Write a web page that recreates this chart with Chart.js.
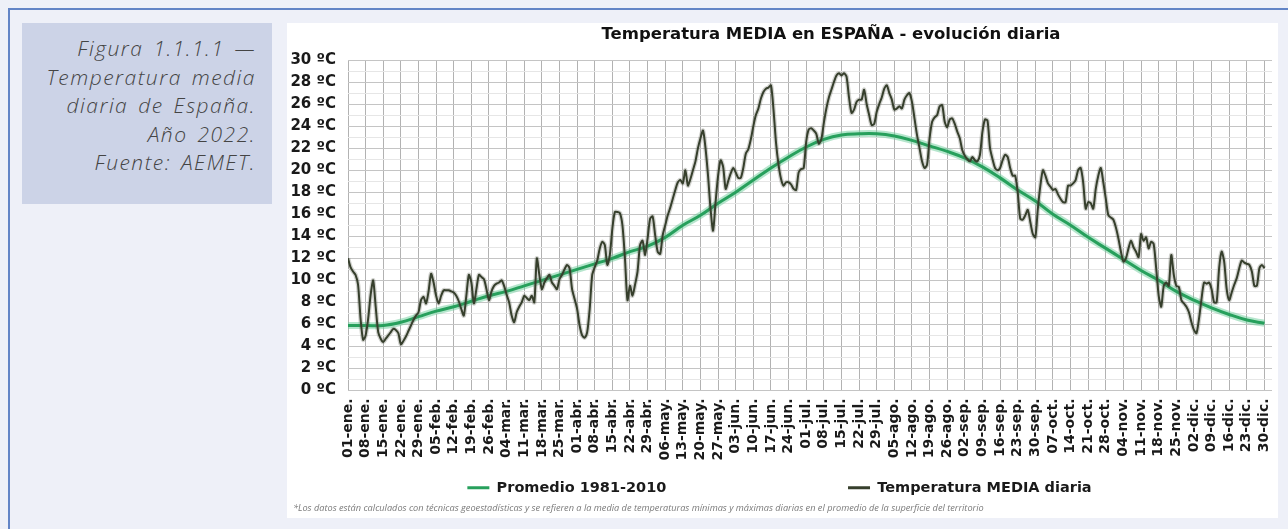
<!DOCTYPE html>
<html>
<head>
<meta charset="utf-8">
<script src="https://cdn.jsdelivr.net/npm/chart.js@4.4.0/dist/chart.umd.min.js"></script>
<style>
html,body{margin:0;padding:0;}
body{width:1288px;height:529px;overflow:hidden;background:#eef0f8;position:relative;font-family:'Open Sans',sans-serif;}
#frame{position:absolute;left:8px;top:8px;width:1300px;height:540px;border-top:2px solid #6284c6;border-left:2px solid #6284c6;}
#caption{position:absolute;left:22px;top:23px;width:250px;height:181px;background:#ccd3e7;}
#caption div{position:absolute;right:16px;top:11px;text-align:right;font-style:italic;font-weight:300;font-size:21px;line-height:28.5px;color:#444;letter-spacing:1.5px;word-spacing:3px;white-space:nowrap;}
#panel{position:absolute;left:287px;top:23px;width:991px;height:495px;background:#fff;}
#chart{position:absolute;left:0;top:0;}
#title{position:absolute;left:244px;width:600px;top:1px;line-height:20px;text-align:center;font-family:'DejaVu Sans',sans-serif;font-weight:bold;font-size:16.5px;color:#111;white-space:nowrap;}
#note{position:absolute;left:6px;top:479px;font-style:italic;font-size:9.2px;line-height:12px;color:#7a7a7a;white-space:nowrap;}
</style>
</head>
<body>
<div id="frame"></div>
<div id="caption"><div>Figura 1.1.1.1 —<br>Temperatura media<br>diaria de España.<br>Año 2022.<br>Fuente: AEMET.</div></div>
<div id="panel">
<canvas id="chart" width="991" height="495"></canvas>
<div id="title">Temperatura MEDIA en ESPAÑA - evolución diaria</div>
<div id="note">*Los datos están calculados con técnicas geoestadísticas y se refieren a la media de temperaturas mínimas y máximas diarias en el promedio de la superficie del territorio</div>
</div>
<script>
// Tick labels (weekly, one every 7 days)
const tickLabels = ['01-ene.','08-ene.','15-ene.','22-ene.','29-ene.','05-feb.','12-feb.','19-feb.','26-feb.','04-mar.','11-mar.','18-mar.','25-mar.','01-abr.','08-abr.','15-abr.','22-abr.','29-abr.','06-may.','13-may.','20-may.','27-may.','03-jun.','10-jun.','17-jun.','24-jun.','01-jul.','08-jul.','15-jul.','22-jul.','29-jul.','05-ago.','12-ago.','19-ago.','26-ago.','02-sep.','09-sep.','16-sep.','23-sep.','30-sep.','07-oct.','14-oct.','21-oct.','28-oct.','04-nov.','11-nov.','18-nov.','25-nov.','02-dic.','09-dic.','16-dic.','23-dic.','30-dic.'];

// Promedio 1981-2010, read at each weekly tick
const promedio = [5.9,5.9,5.9,6.2,6.7,7.2,7.6,8.1,8.6,9.0,9.5,10.0,10.5,11.0,11.5,12.0,12.6,13.1,13.9,15.0,15.9,17.0,18.0,19.1,20.2,21.2,22.1,22.8,23.2,23.3,23.3,23.1,22.7,22.2,21.7,21.1,20.3,19.3,18.2,17.2,16.0,15.0,13.9,12.9,11.9,10.9,10.0,9.0,8.2,7.5,6.9,6.4,6.1];

// Temperatura MEDIA diaria 2022 (day 0 = 1 Jan)
const mediaDiaria = [
12.0,11.2,10.8,10.5,9.6,6.5,4.6,5.0,6.5,8.7,10.0,7.6,5.3,4.7,4.4,4.7,5.0,5.3,5.6,5.5,
5.2,4.2,4.5,4.9,5.4,5.9,6.4,6.8,7.1,8.2,8.5,7.9,9.0,10.6,9.8,8.6,7.9,8.6,9.1,9.1,
9.1,9.0,8.9,8.6,8.1,7.4,6.8,8.6,10.5,9.8,7.9,9.2,10.5,10.3,10.1,9.2,8.2,9.0,9.5,9.7,
9.8,10.0,9.5,8.7,8.0,6.8,6.2,7.1,7.6,8.0,8.6,8.4,8.2,8.6,8.0,12.0,10.5,9.2,9.8,10.2,
10.5,9.8,9.5,9.2,10.1,10.5,11.0,11.4,11.1,9.2,8.3,7.4,5.9,5.0,4.8,5.3,7.4,10.5,11.2,11.8,
12.9,13.5,13.2,11.4,12.3,14.7,16.2,16.2,16.1,15.0,12.0,8.2,9.5,8.6,9.6,10.8,13.2,13.6,12.3,13.8,
15.6,15.8,14.1,12.6,12.4,14.1,15.0,15.9,16.6,17.4,18.2,18.9,19.1,18.8,20.0,18.6,19.2,20.0,20.8,22.0,
22.9,23.6,22.0,19.5,16.5,14.5,17.1,19.5,20.9,20.3,18.3,19.0,19.7,20.2,19.8,19.3,19.3,20.2,21.5,21.9,
22.8,24.0,25.0,25.6,26.5,27.1,27.4,27.5,27.7,25.5,22.5,20.5,19.2,18.6,18.9,18.9,18.7,18.3,18.2,19.8,
20.1,20.2,22.6,23.7,23.8,23.6,23.3,22.4,22.8,24.3,25.6,26.6,27.3,28.0,28.6,28.8,28.6,28.8,28.5,26.6,
25.2,25.5,26.2,26.4,26.4,27.3,26.0,25.0,24.1,24.2,25.3,26.0,26.6,27.4,27.7,27.0,26.4,25.5,25.6,25.8,
25.6,26.4,26.8,27.0,26.2,24.7,23.2,22.0,20.8,20.2,20.5,22.9,24.4,24.8,25.0,25.8,25.9,24.4,23.9,24.6,
24.7,24.2,23.5,22.9,21.8,21.3,21.0,20.8,21.2,20.9,20.8,21.4,23.5,24.6,24.5,22.0,21.0,20.2,20.0,20.2,
20.9,21.4,21.2,20.2,19.5,19.5,18.0,15.6,15.5,15.9,16.4,15.3,14.2,13.9,16.5,18.6,20.0,19.5,18.8,18.5,
18.2,18.3,17.8,17.4,17.1,17.1,18.6,18.6,18.8,19.1,20.0,20.2,18.9,16.5,17.1,17.0,16.5,18.3,19.5,20.2,
18.9,17.4,15.9,15.7,15.5,14.8,13.8,12.6,11.7,12.0,12.9,13.6,13.0,12.6,12.1,14.2,13.6,13.9,12.9,13.5,
13.3,11.1,8.6,7.6,9.5,9.8,9.5,12.3,10.5,9.5,9.4,8.2,7.9,7.6,7.1,6.2,5.5,5.2,6.5,8.3,
9.8,9.7,9.8,9.2,8.0,8.0,11.1,12.6,11.7,9.2,8.2,8.9,9.6,10.2,11.1,11.8,11.6,11.5,11.4,10.8,
9.5,9.5,11.1,11.4,11.1
];

const DAYS_PER_TICK = 7;
const dailyPts = mediaDiaria.map((v, i) => ({x: i, y: v}));
const avgPts = promedio.map((v, i) => ({x: i * DAYS_PER_TICK, y: v}));

const FONT = 'DejaVu Sans';
const LEGEND_SIZE = 14.5;
const legendFont = {family: FONT, weight: 'bold', size: LEGEND_SIZE};

// pad first legend label so the two entries sit far apart, as in the source
const mctx = document.createElement('canvas').getContext('2d');
mctx.font = 'bold ' + LEGEND_SIZE + 'px "' + FONT + '"';
function padTo(label, w) {
  let s = label;
  while (mctx.measureText(s + ' ').width <= w) s += ' ';
  return s;
}
const isWeekTick = (v) => Math.abs(v / DAYS_PER_TICK - Math.round(v / DAYS_PER_TICK)) < 1e-6;

new Chart(document.getElementById('chart'), {
  type: 'line',
  data: {
    datasets: [
      {label: 'Temperatura MEDIA diaria', data: dailyPts, borderColor: '#363f2c', borderWidth: 2, pointRadius: 0, tension: 0.25, order: 0},
      {label: 'halo-diaria', data: dailyPts, borderColor: 'rgba(90,95,80,0.28)', borderWidth: 4.5, pointRadius: 0, tension: 0.25, order: 1},
      {label: 'Promedio 1981-2010', data: avgPts, borderColor: '#27a05c', borderWidth: 3, pointRadius: 0, tension: 0.4, order: 2},
      {label: 'halo-promedio', data: avgPts, borderColor: 'rgba(110,205,155,0.5)', borderWidth: 7, pointRadius: 0, tension: 0.4, order: 3}
    ]
  },
  options: {
    responsive: false,
    animation: false,
    devicePixelRatio: 1,
    layout: {padding: {left: 0, right: 6, top: 37, bottom: 13}},
    plugins: {
      tooltip: {enabled: false},
      title: {display: false},
      legend: {
        position: 'bottom',
        labels: {
          boxWidth: 22,
          boxHeight: 3,
          padding: 10,
          font: legendFont,
          generateLabels: (chart) => {
            const ds = chart.data.datasets;
            return [
              {text: padTo(ds[2].label, 345), fillStyle: ds[2].borderColor, strokeStyle: ds[2].borderColor, lineWidth: 0, fontColor: '#1a1a1a', datasetIndex: 2, hidden: false},
              {text: ds[0].label, fillStyle: ds[0].borderColor, strokeStyle: ds[0].borderColor, lineWidth: 0, fontColor: '#1a1a1a', datasetIndex: 0, hidden: false}
            ];
          }
        }
      }
    },
    scales: {
      x: {
        type: 'linear',
        min: 0,
        max: 367,
        bounds: 'data',
        border: {display: false},
        grid: {drawTicks: false, color: (c) => (c.tick && isWeekTick(c.tick.value)) ? '#b2b2b2' : 'rgba(0,0,0,0)'},
        ticks: {
          stepSize: DAYS_PER_TICK,
          includeBounds: false,
          autoSkip: false,
          maxRotation: 90,
          minRotation: 90,
          padding: 8,
          color: '#1a1a1a',
          font: {family: FONT, weight: 'bold', size: 14},
          callback: (v) => isWeekTick(v) ? tickLabels[Math.round(v / DAYS_PER_TICK)] : ''
        },
        afterFit: (s) => { s.height = 80; s.paddingLeft = 0; s.paddingRight = 0; }
      },
      y: {
        min: 0,
        max: 30,
        border: {display: false},
        grid: {drawTicks: false, color: (c) => (c.tick && c.tick.value % 2 === 0) ? '#c4c4c4' : '#e6e6e6'},
        ticks: {
          stepSize: 1,
          autoSkip: false,
          padding: 12,
          color: '#1a1a1a',
          font: {family: FONT, weight: 'bold', size: 15},
          callback: (v) => (v % 2 === 0 ? v + ' ºC' : '')
        },
        afterFit: (s) => { s.width = 61; s.paddingTop = 0; s.paddingBottom = 0; }
      }
    }
  }
});
</script>
</body>
</html>
